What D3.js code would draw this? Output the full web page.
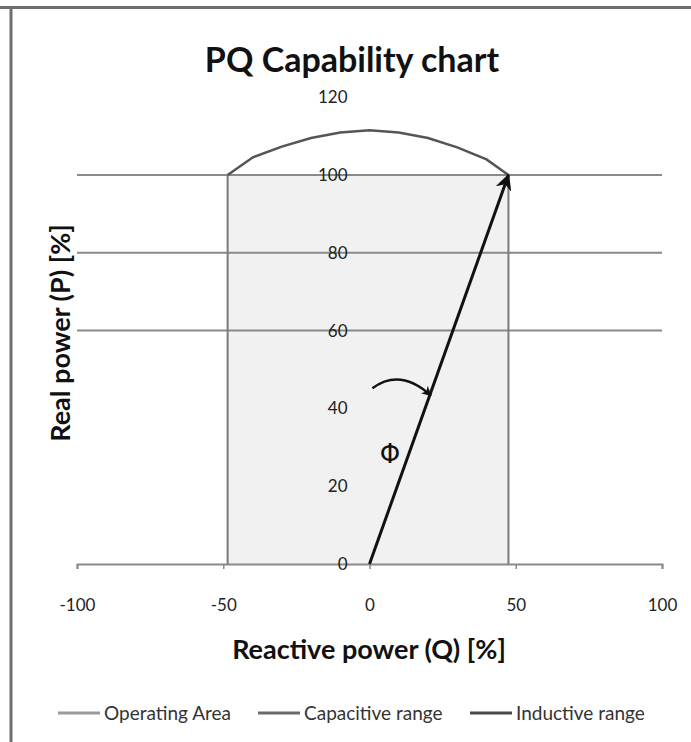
<!DOCTYPE html>
<html>
<head>
<meta charset="utf-8">
<script src="https://cdn.jsdelivr.net/npm/d3@7"></script>
<style>
  body { margin: 0; background: #fff; }
  text { font-family: Lato, "Open Sans", sans-serif; }
</style>
</head>
<body>
<div id="chart"></div>
<script>
// PQ capability chart

// data
const xTicks = [-100, -50, 0, 50, 100];
const yTicks = [0, 20, 40, 60, 80, 100, 120];
const gridValues = [60, 80, 100];
const areaQ = [-48.5, 47.5];           // operating area left/right edge
const areaP = 100;                     // operating area top
const capQ = [-48.5, -40, -30, -20, -10, 0, 10, 20, 30, 40, 47.5];
const capP = [100, 104.5, 107.3, 109.5, 110.9, 111.5, 110.9, 109.5, 107.1, 104, 100];
const vectorQ = [0, 47.5];
const vectorP = [0, 100];
const phiQ = [1, 10.5, 21];
const phiP = [45.2, 50.5, 43.3];
const phiLabel = {q: 7, p: 28, text: "Φ"};
const legendNames = ["Operating Area", "Capacitive range", "Inductive range"];
const legendColors = ["#9a9a9a", "#6a6a6a", "#4a4a4a"];

const W = 691, H = 742;

const svg = d3.select("#chart")
  .append("svg")
    .attr("width", W)
    .attr("height", H);

// outer frame (top and left edge only, as in the scan)
svg.append("line").attr("x1", 0).attr("x2", W).attr("y1", 7.5).attr("y2", 7.5)
  .attr("stroke", "#6e6e6e").attr("stroke-width", 3);
svg.append("line").attr("x1", 11).attr("x2", 11).attr("y1", 6).attr("y2", H)
  .attr("stroke", "#6e6e6e").attr("stroke-width", 3);

const x = d3.scaleLinear().domain([-100, 100]).range([77, 662]);
const y = d3.scaleLinear().domain([0, 120]).range([564, 97.2]);

// operating area fill
svg.append("rect")
  .attr("x", x(areaQ[0]))
  .attr("y", y(areaP))
  .attr("width", x(areaQ[1]) - x(areaQ[0]))
  .attr("height", y(0) - y(areaP))
  .attr("fill", "#f1f1f1");

// gridlines
svg.selectAll(".grid")
  .data(gridValues)
  .enter().append("line")
    .attr("class", "grid")
    .attr("x1", x(-100)).attr("x2", x(100))
    .attr("y1", d => y(d)).attr("y2", d => y(d))
    .attr("stroke", "#8a8a8a")
    .attr("stroke-width", 2);

// x axis
const xAxis = svg.append("g")
  .attr("transform", "translate(0," + y(0) + ")")
  .call(d3.axisBottom(x).tickValues(xTicks).tickSize(5).tickPadding(30)
    .tickFormat(d => String(d)));
xAxis.select(".domain").attr("stroke", "#8a8a8a").attr("stroke-width", 2);
xAxis.selectAll(".tick line").attr("stroke", "#8a8a8a").attr("stroke-width", 1.5);
xAxis.selectAll(".tick text")
  .attr("font-size", 17).attr("fill", "#222")
  .style("font-family", "Lato, sans-serif");

// y labels sitting at Q = 0
const yAxis = svg.append("g")
  .attr("transform", "translate(" + x(0) + ",0)")
  .call(d3.axisLeft(y).tickValues(yTicks).tickSize(0).tickPadding(22));
yAxis.select(".domain").remove();
yAxis.selectAll(".tick text")
  .attr("font-size", 17).attr("fill", "#222")
  .style("font-family", "Lato, sans-serif");

// operating area edges
svg.selectAll(".edge")
  .data(areaQ)
  .enter().append("line")
    .attr("class", "edge")
    .attr("x1", d => x(d)).attr("x2", d => x(d))
    .attr("y1", y(0)).attr("y2", y(areaP))
    .attr("stroke", "#7a7a7a")
    .attr("stroke-width", 2);

// capability curve
const line = d3.line().x(d => x(d[0])).y(d => y(d[1]));
svg.append("path")
  .datum(d3.zip(capQ, capP))
  .attr("d", line)
  .attr("fill", "none")
  .attr("stroke", "#555")
  .attr("stroke-width", 2.5);

// arrow markers
const defs = svg.append("defs");
defs.append("marker")
  .attr("id", "arrow")
  .attr("viewBox", "0 0 10 10")
  .attr("refX", 9).attr("refY", 5)
  .attr("markerWidth", 5.5).attr("markerHeight", 5.5)
  .attr("orient", "auto")
  .append("path").attr("d", "M0,0 L10,5 L0,10 L3,5 Z").attr("fill", "#111");
defs.append("marker")
  .attr("id", "arrowSmall")
  .attr("viewBox", "0 0 10 10")
  .attr("refX", 9).attr("refY", 5)
  .attr("markerWidth", 4).attr("markerHeight", 4)
  .attr("orient", "auto")
  .append("path").attr("d", "M0,0 L10,5 L0,10 L3,5 Z").attr("fill", "#111");

// power vector
svg.append("line")
  .attr("x1", x(vectorQ[0])).attr("y1", y(vectorP[0]))
  .attr("x2", x(vectorQ[1])).attr("y2", y(vectorP[1]))
  .attr("stroke", "#111")
  .attr("stroke-width", 3)
  .attr("marker-end", "url(#arrow)");

// phi angle arc
const phiPath = d3.path();
phiPath.moveTo(x(phiQ[0]), y(phiP[0]));
phiPath.quadraticCurveTo(x(phiQ[1]), y(phiP[1]), x(phiQ[2]), y(phiP[2]));
svg.append("path")
  .attr("d", phiPath.toString())
  .attr("fill", "none")
  .attr("stroke", "#111")
  .attr("stroke-width", 2.5)
  .attr("marker-end", "url(#arrowSmall)");

svg.append("text")
  .attr("x", x(phiLabel.q)).attr("y", y(phiLabel.p))
  .attr("text-anchor", "middle")
  .attr("dominant-baseline", "middle")
  .attr("font-size", 26)
  .style("font-family", "DejaVu Sans, sans-serif")
  .attr("fill", "#111")
  .text(phiLabel.text);

// titles
svg.append("text")
  .attr("x", 352).attr("y", 72)
  .attr("text-anchor", "middle")
  .attr("font-size", 34).attr("font-weight", "bold")
  .attr("fill", "#111")
  .text("PQ Capability chart");

svg.append("text")
  .attr("x", 369).attr("y", 659)
  .attr("text-anchor", "middle")
  .attr("font-size", 27).attr("font-weight", "bold")
  .attr("fill", "#111")
  .text("Reactive power (Q) [%]");

svg.append("text")
  .attr("transform", "translate(70,333) rotate(-90)")
  .attr("text-anchor", "middle")
  .attr("font-size", 27).attr("font-weight", "bold")
  .attr("fill", "#111")
  .text("Real power (P) [%]");

// legend
const legendX = [58, 258, 470];
const legend = svg.selectAll(".legend")
  .data(legendNames)
  .enter().append("g")
    .attr("class", "legend")
    .attr("transform", (d, i) => "translate(" + legendX[i] + ",713)");
legend.append("line")
  .attr("x1", 0).attr("x2", 42)
  .attr("stroke", (d, i) => legendColors[i])
  .attr("stroke-width", 3);
legend.append("text")
  .attr("x", 46).attr("dy", "0.35em")
  .attr("font-size", 19).attr("fill", "#333")
  .text(d => d);
</script>
</body>
</html>
